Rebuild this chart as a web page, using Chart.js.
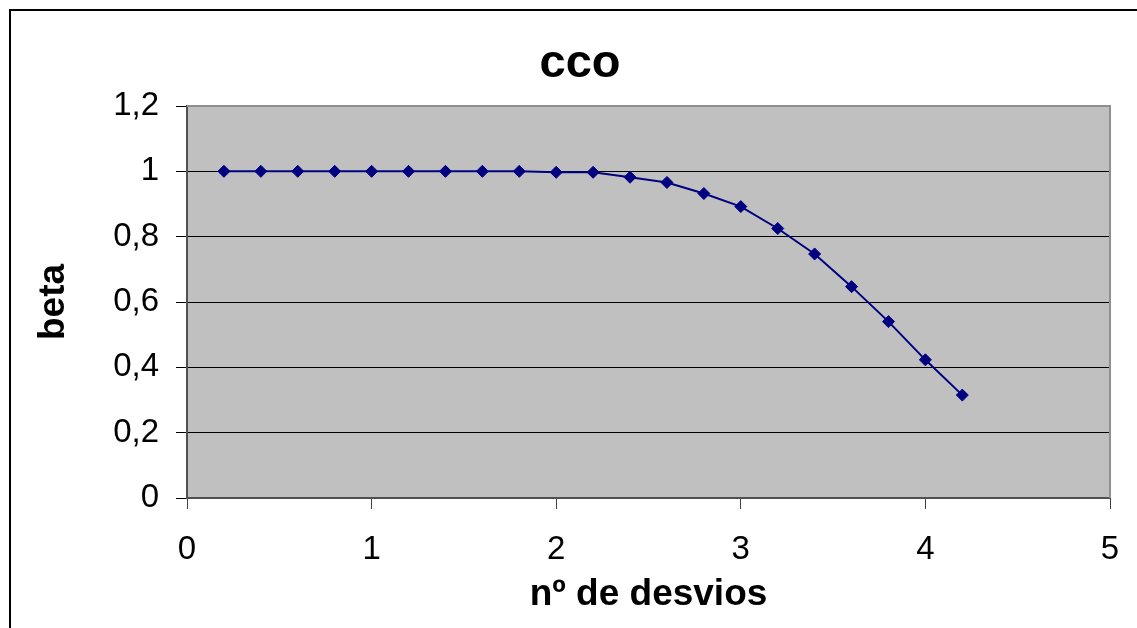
<!DOCTYPE html>
<html>
<head>
<meta charset="utf-8">
<title>cco</title>
<script src="https://cdn.jsdelivr.net/npm/chart.js@4.4.1/dist/chart.umd.min.js"></script>
<style>
    html, body { margin: 0; padding: 0; background: #fff; }
    canvas { display: block; }
</style>
</head>
<body>
<canvas id="cco" width="1137" height="628"></canvas>
<script>
// nº de desvios (x) e beta (y)
const desvios = [0.2, 0.4, 0.6, 0.8, 1.0, 1.2, 1.4, 1.6, 1.8, 2.0, 2.2,
                 2.4, 2.6, 2.8, 3.0, 3.2, 3.4, 3.6, 3.8, 4.0, 4.2];
const beta = [1, 1, 1, 1, 1, 1, 1, 1, 1, 0.997, 0.997,
              0.982, 0.966, 0.932, 0.892, 0.825, 0.747, 0.647, 0.540, 0.423, 0.315];
const xTicks = [0, 1, 2, 3, 4, 5];
const yTicks = [0, 0.2, 0.4, 0.6, 0.8, 1, 1.2];

const titleText = "cco";
const xTitle = "nº de desvios";
const yTitle = "beta";

const fontFamily = "'Liberation Sans', Arial, sans-serif";

// fundo cinza, moldura e título
const framePlugin = {
    id: "frame",
    beforeDraw: (chart) => {
        const { ctx, chartArea: a } = chart;
        ctx.save();
        ctx.fillStyle = "#c0c0c0";
        ctx.fillRect(a.left, a.top, a.right - a.left, a.bottom - a.top);
        ctx.restore();
    },
    afterDraw: (chart) => {
        const { ctx, chartArea: a } = chart;
        ctx.save();
        // borda cinza superior e direita
        ctx.strokeStyle = "#8f8f8f";
        ctx.lineWidth = 2;
        ctx.beginPath();
        ctx.moveTo(a.left, a.top);
        ctx.lineTo(a.right, a.top);
        ctx.lineTo(a.right, a.bottom);
        ctx.stroke();
        // moldura externa
        ctx.strokeStyle = "#000";
        ctx.lineWidth = 2;
        ctx.beginPath();
        ctx.moveTo(10, chart.height);
        ctx.lineTo(10, 10);
        ctx.lineTo(chart.width, 10);
        ctx.stroke();
        // título
        ctx.fillStyle = "#000";
        ctx.font = "bold 47px " + fontFamily;
        ctx.textAlign = "center";
        ctx.textBaseline = "alphabetic";
        ctx.fillText(titleText, 580, 77);
        ctx.restore();
    },
};

let points = desvios.map((d, i) => ({ x: d, y: beta[i] }));

let ctx = document.getElementById("cco").getContext("2d");

let data = {
    datasets: [
        {
            label: yTitle,
            data: points,
            showLine: true,
            borderColor: "#000080",
            backgroundColor: "#000080",
            borderWidth: 2,
            pointStyle: "rectRot",
            pointRadius: 6,
            pointBorderWidth: 1,
            pointBorderColor: "#000080",
            pointBackgroundColor: "#000080",
        },
    ],
};

let options = {
    responsive: false,
    animation: false,
    layout: {
        padding: { top: 106, right: 27, bottom: 0, left: 0 },
    },
    plugins: {
        legend: { display: false },
        title: { display: false },
        tooltip: { enabled: false },
    },
    scales: {
        x: {
            type: "linear",
            min: 0,
            max: 5,
            afterFit: (scale) => {
                scale.height = 130;
                scale.paddingLeft = 0;
                scale.paddingRight = 0;
            },
            afterBuildTicks: (scale) => {
                scale.ticks = xTicks.map((v) => ({ value: v }));
            },
            ticks: {
                color: "#000",
                padding: 21,
                font: { family: fontFamily, size: 33 },
                maxRotation: 0,
            },
            grid: {
                drawOnChartArea: false,
                drawTicks: true,
                tickLength: 11,
                tickColor: "#404040",
            },
            border: { color: "#505050", width: 2 },
            title: {
                display: true,
                text: xTitle,
                color: "#000",
                font: { family: fontFamily, size: 37, weight: "bold" },
                padding: { top: 0, bottom: 11 },
            },
        },
        y: {
            type: "linear",
            min: 0,
            max: 1.2,
            afterFit: (scale) => {
                scale.width = 187;
                scale.paddingTop = 0;
                scale.paddingBottom = 0;
            },
            afterBuildTicks: (scale) => {
                scale.ticks = yTicks.map((v) => ({ value: v }));
            },
            ticks: {
                color: "#000",
                padding: 17,
                font: { family: fontFamily, size: 33 },
                callback: (v) => String(Math.round(v * 10) / 10).replace(".", ","),
            },
            grid: {
                color: "#000",
                lineWidth: 1,
                tickLength: 11,
                tickColor: "#000",
            },
            border: { color: "#505050", width: 2 },
            title: {
                display: true,
                text: yTitle,
                color: "#000",
                font: { family: fontFamily, size: 37, weight: "bold" },
                padding: { top: 32, bottom: 0 },
            },
        },
    },
};

let myChart = new Chart(ctx, {
    type: "scatter",
    data: data,
    options: options,
    plugins: [framePlugin],
});
</script>
</body>
</html>
